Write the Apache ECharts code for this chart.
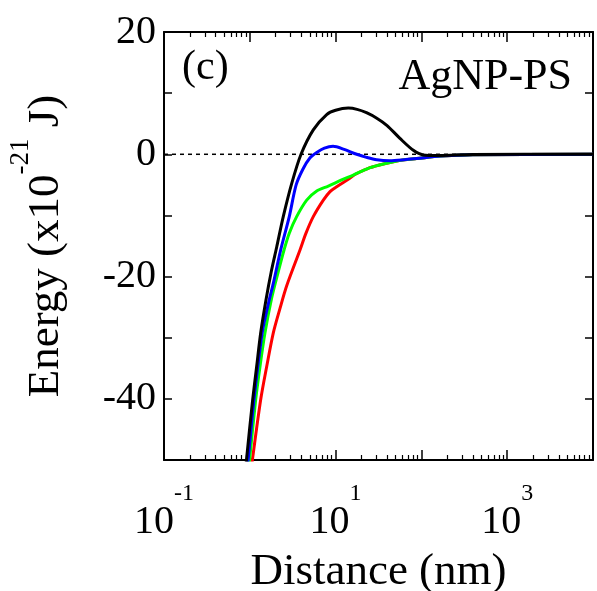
<!DOCTYPE html>
<html><head><meta charset="utf-8">
<script src="https://cdn.jsdelivr.net/npm/echarts@6/dist/echarts.min.js"></script>
<style>html,body{margin:0;padding:0;background:#fff}#c{width:597px;height:591px}</style>
</head><body><div id="c"></div>
<script>
// ---- data (distance in nm, energy in 1e-21 J) ----
const blackX = [0.851, 0.920, 1.081, 1.202, 1.340, 1.545, 1.778, 2.056, 2.455, 3.076, 3.954, 5.495, 7.870, 10, 14.06, 17.78, 22.91, 30.2, 39.81, 56.23, 80.54, 104.7, 158.5, 398.1, 10000];
const blackY = [-54.5, -49.6, -40.1, -34.7, -29.2, -23.8, -19.2, -15.2, -10.2, -4.8, 0, 4.0, 6.5, 7.2, 7.55, 7.35, 6.8, 5.9, 4.7, 2.6, 0.65, -0.1, -0.2, -0.05, 0];
const blueX = [0.871, 0.962, 1.119, 1.396, 1.660, 1.879, 2.291, 2.884, 3.467, 4.169, 5.012, 6.026, 7.413, 9.333, 12.59, 17.62, 22.91, 30.2, 42.66, 63.1, 88.1, 166, 398, 10000];
const blueY = [-55.2, -49.6, -40.1, -29.2, -24.2, -21.1, -15.65, -10.2, -5.0, -2.4, -0.6, 0.3, 1.0, 1.3, 0.8, 0.0, -0.5, -0.9, -1.05, -0.9, -0.7, -0.3, -0.08, 0];
const greenX = [0.912, 1.0, 1.172, 1.315, 1.503, 1.799, 2.138, 2.506, 2.884, 3.516, 4.603, 6.026, 8.222, 11.75, 16.07, 23.99, 31.62, 50.12, 63.1, 88.1, 166, 398, 10000];
const greenY = [-55, -49.6, -40.1, -34.7, -29.2, -23.5, -19.3, -15.65, -12.9, -10.2, -7.5, -6.0, -5.2, -4.2, -3.4, -2.3, -1.8, -1.15, -0.9, -0.7, -0.3, -0.08, 0];
const redX = [1.0, 1.081, 1.340, 1.574, 1.879, 2.249, 2.692, 3.846, 4.519, 5.495, 7.194, 8.610, 10.30, 14.06, 16.83, 23.99, 31.62, 50.12, 63.1, 88.1, 166, 398, 10000];
const redY = [-53.5, -49.6, -40.1, -34.7, -29.2, -25.2, -21.5, -15.65, -12.9, -10.2, -7.5, -6.1, -5.3, -4.1, -3.3, -2.3, -1.8, -1.15, -0.9, -0.7, -0.3, -0.08, 0];
const zeroX = [0.1, 10000];
const zeroY = [0, 0];
const xLabelExponents = [-1, 1, 3];
const yTickLabels = [-40, -20, 0, 20];
const xMinorTicks = [0.2,0.3,0.4,0.5,0.6,0.7,0.8,0.9, 2,3,4,5,6,7,8,9, 20,30,40,50,60,70,80,90, 200,300,400,500,600,700,800,900, 2000,3000,4000,5000,6000,7000,8000,9000];
const panelLabel = '(c)';
const sampleLabel = 'AgNP-PS';

const F = 'Liberation Serif';
const zip = (xs, ys) => xs.map((x, i) => [x, ys[i]]);
const gridRect = { left: 164, right: 4, top: 32, bottom: 131, outerBoundsMode: 'none', containLabel: false };

const chart = echarts.init(document.getElementById('c'));
const lineSeries = (name, xs, ys, color) => ({
  name, type: 'line', data: zip(xs, ys), xAxisIndex: 0, yAxisIndex: 0,
  showSymbol: false, smooth: 0.3, lineStyle: { color, width: 3 }, itemStyle: { color },
  clip: true, animation: false
});
const axisBase = { type: 'log', logBase: 10, min: 0.1, max: 10000, splitLine: { show: false } };

chart.setOption({
  animation: false,
  backgroundColor: '#fff',
  grid: [Object.assign({}, gridRect), Object.assign({}, gridRect)],
  xAxis: [
    Object.assign({}, axisBase, { gridIndex: 0, position: 'bottom',
      axisLine: { onZero: false, lineStyle: { color: '#000', width: 2 } },
      axisTick: { inside: true, length: 10, lineStyle: { color: '#000', width: 1.5 } },
      axisLabel: { showMinLabel: true, showMaxLabel: true, margin: 22, color: '#000',
        formatter: v => { const e = Math.round(Math.log10(v)); return xLabelExponents.includes(e) ? '{b|10}{s|' + e + '}' : ''; },
        rich: { b: { fontFamily: F, fontSize: 40, color: '#000', verticalAlign: 'bottom', lineHeight: 60 },
                s: { fontFamily: F, fontSize: 24, color: '#000', verticalAlign: 'top' } } },
      name: 'Distance (nm)', nameLocation: 'middle', nameGap: 90,
      nameTextStyle: { fontFamily: F, fontSize: 45, color: '#000' } }),
    Object.assign({}, axisBase, { gridIndex: 0, position: 'top',
      axisLine: { onZero: false, lineStyle: { color: '#000', width: 2 } },
      axisTick: { inside: true, length: 10, lineStyle: { color: '#000', width: 1.5 } },
      axisLabel: { show: false } }),
    Object.assign({}, axisBase, { gridIndex: 1, position: 'bottom',
      axisLine: { show: false, onZero: false },
      axisTick: { inside: true, length: 5, customValues: xMinorTicks, lineStyle: { color: '#000', width: 1.2 } },
      axisLabel: { show: false } }),
    Object.assign({}, axisBase, { gridIndex: 1, position: 'top',
      axisLine: { show: false, onZero: false },
      axisTick: { inside: true, length: 5, customValues: xMinorTicks, lineStyle: { color: '#000', width: 1.2 } },
      axisLabel: { show: false } })
  ],
  yAxis: [
    { type: 'value', min: -50, max: 20, interval: 10, gridIndex: 0, position: 'left',
      axisLine: { show: true, onZero: false, lineStyle: { color: '#000', width: 2 } },
      axisTick: { show: true, inside: true, length: 8, lineStyle: { color: '#000', width: 1.5 } },
      splitLine: { show: false },
      axisLabel: { margin: 8, color: '#000', fontFamily: F, fontSize: 40,
        formatter: v => yTickLabels.includes(v) ? String(v) : '' },
      name: '{b|Energy (x10}{s|-21}{b| J)}', nameLocation: 'middle', nameGap: 95, nameRotate: 90,
      nameTextStyle: { rich: { b: { fontFamily: F, fontSize: 45, color: '#000', verticalAlign: 'bottom', lineHeight: 62 },
                               s: { fontFamily: F, fontSize: 27, color: '#000', verticalAlign: 'top' } } } },
    { type: 'value', min: -50, max: 20, interval: 10, gridIndex: 0, position: 'right',
      axisLine: { show: true, onZero: false, lineStyle: { color: '#000', width: 2 } },
      axisTick: { show: true, inside: true, length: 8, lineStyle: { color: '#000', width: 1.5 } },
      splitLine: { show: false }, axisLabel: { show: false } },
    { type: 'value', min: -50, max: 20, gridIndex: 1, show: false }
  ],
  graphic: [
    { type: 'text', left: 182, top: 47, style: { text: panelLabel, fontFamily: F, fontSize: 42, fill: '#000' } },
    { type: 'text', right: 25, top: 55, style: { text: sampleLabel, fontFamily: F, fontSize: 44, fill: '#000' } }
  ],
  series: [
    { type: 'line', data: zip(zeroX, zeroY), xAxisIndex: 0, yAxisIndex: 0, showSymbol: false,
      lineStyle: { color: '#000', width: 1.5, type: [4, 4] }, silent: true },
    lineSeries('red', redX, redY, '#ff0000'),
    lineSeries('green', greenX, greenY, '#00ff00'),
    lineSeries('blue', blueX, blueY, '#0000ff'),
    lineSeries('black', blackX, blackY, '#000000')
  ]
});
</script></body></html>
